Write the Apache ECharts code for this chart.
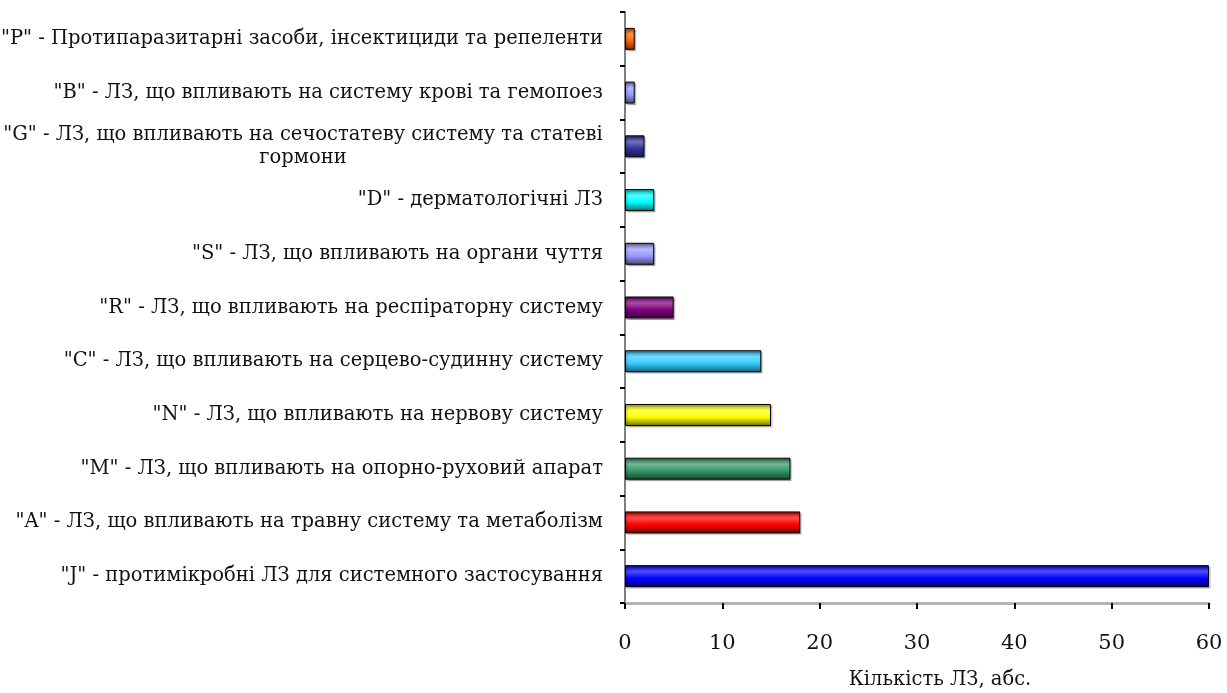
<!DOCTYPE html>
<html>
<head>
<meta charset="utf-8">
<script src="https://cdn.jsdelivr.net/npm/echarts@6/dist/echarts.min.js"></script>
<style>
  html, body { margin: 0; padding: 0; background: #fff; }
  #chart { width: 1227px; height: 693px; }
</style>
</head>
<body>
<div id="chart"></div>
<script>
// ATC groups, listed bottom to top
const categories = [
  '"J" - протимікробні ЛЗ для системного застосування',
  '"A" - ЛЗ, що впливають на травну систему та метаболізм',
  '"M" - ЛЗ, що впливають на опорно-руховий апарат',
  '"N" - ЛЗ, що впливають на нервову систему',
  '"C" - ЛЗ, що впливають на серцево-судинну систему',
  '"R" - ЛЗ, що впливають на респіраторну систему',
  '"S" - ЛЗ, що впливають на органи чуття',
  '"D" - дерматологічні ЛЗ',
  '"G" - ЛЗ, що впливають на сечостатеву систему та статеві\nгормони',
  '"B" - ЛЗ, що впливають на систему крові та гемопоез',
  '"P" - Протипаразитарні засоби, інсектициди та репеленти'
];
const counts = [60, 18, 17, 15, 14, 5, 3, 3, 2, 1, 1];
const barColors = ['#0000ff', '#ff0000', '#339966', '#ffff00', '#33ccff', '#800080',
                   '#9999ff', '#00ffff', '#333399', '#9999ff', '#ff6600'];
const xTicks = [0, 10, 20, 30, 40, 50, 60];
const xAxisTitle = 'Кількість ЛЗ, абс.';

const FONT = '"DejaVu Serif", "Liberation Serif", serif';
const LABEL_SIZE = 19.5;

function hexToRgb(h) {
  const n = parseInt(h.slice(1), 16);
  return [(n >> 16) & 255, (n >> 8) & 255, n & 255];
}
function mix(h, target, t) {
  const c = hexToRgb(h);
  return 'rgb(' + c.map(v => Math.round(v + (target - v) * t)).join(',') + ')';
}
// Cylinder-like shading across the bar thickness
function shaded(h) {
  return new echarts.graphic.LinearGradient(0, 0, 0, 1, [
    { offset: 0, color: mix(h, 0, 0.35) },
    { offset: 0.3, color: mix(h, 255, 0.3) },
    { offset: 0.6, color: h },
    { offset: 1, color: mix(h, 0, 0.55) }
  ]);
}

// Wrapped labels: each line sits in a box as wide as the first line, centred
const measureCtx = document.createElement('canvas').getContext('2d');
measureCtx.font = LABEL_SIZE + 'px ' + FONT;
const wrappedWidth = Math.ceil(
  Math.max(...categories.filter(c => c.includes('\n')).map(c => measureCtx.measureText(c.split('\n')[0]).width))
);

const chart = echarts.init(document.getElementById('chart'));
chart.setOption({
  animation: false,
  grid: { left: 625, right: 18, top: 12, bottom: 90, outerBoundsMode: 'none' },
  xAxis: {
    type: 'value',
    min: 0, max: 60, interval: 10,
    axisLine: { show: true, lineStyle: { color: '#b4b4b4', width: 3 } },
    axisTick: { show: true, length: 6, lineStyle: { color: '#000', width: 2 } },
    splitLine: { show: false },
    axisLabel: {
      margin: 30, color: '#111', fontSize: 21, fontFamily: FONT,
      formatter: v => xTicks.includes(v) ? String(v) : ''
    },
    name: xAxisTitle,
    nameLocation: 'middle',
    nameGap: 77,
    nameMoveOverlap: false,
    nameTextStyle: {
      color: '#111', fontSize: LABEL_SIZE, fontFamily: FONT, verticalAlign: 'middle',
      padding: [0, 0, 0, 46]
    }
  },
  yAxis: {
    type: 'category',
    data: categories,
    axisLine: { show: true, lineStyle: { color: '#7f7f7f', width: 2 } },
    axisTick: { show: true, length: 5, lineStyle: { color: '#000', width: 2 } },
    axisLabel: {
      margin: 22, color: '#111', fontSize: LABEL_SIZE, fontFamily: FONT,
      formatter: v => v.includes('\n')
        ? v.split('\n').map(l => '{c|' + l + '}').join('\n')
        : v,
      rich: {
        c: { fontSize: LABEL_SIZE, fontFamily: FONT, color: '#111', align: 'center',
             width: wrappedWidth, lineHeight: 23 }
      }
    }
  },
  series: [{
    type: 'bar',
    data: counts.map((v, i) => ({
      value: v,
      itemStyle: {
        color: shaded(barColors[i]),
        borderColor: '#000', borderWidth: 1,
        shadowColor: 'rgba(0,0,0,0.25)', shadowOffsetX: 1.5, shadowOffsetY: 1.5, shadowBlur: 1
      }
    })),
    barWidth: 22
  }]
});
</script>
</body>
</html>
